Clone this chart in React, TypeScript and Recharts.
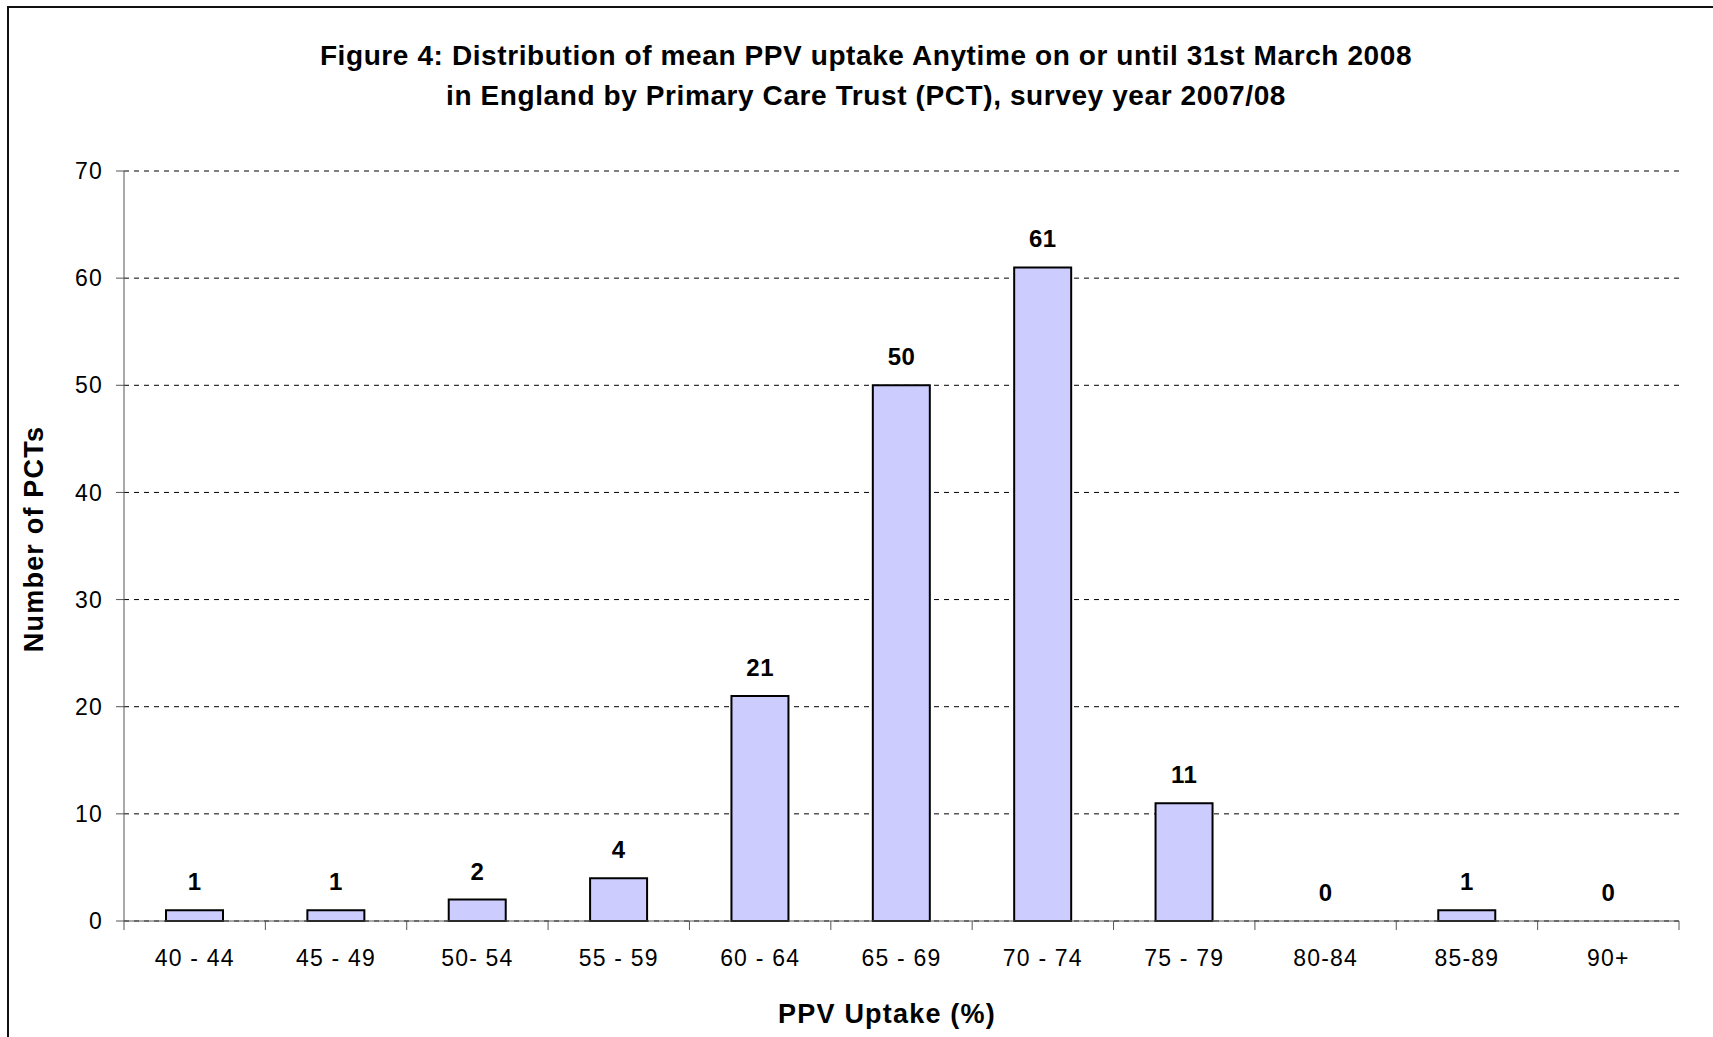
import React from "react";
import { ComposedChart, Bar, Line, XAxis, YAxis, CartesianGrid, LabelList } from "recharts";

const categories = ["40 - 44", "45 - 49", "50- 54", "55 - 59", "60 - 64", "65 - 69", "70 - 74", "75 - 79", "80-84", "85-89", "90+"];
const counts = [1, 1, 2, 4, 21, 50, 61, 11, 0, 1, 0];
const yTicks = [0, 10, 20, 30, 40, 50, 60, 70];
const titleLines = [
  "Figure 4: Distribution of mean PPV uptake Anytime on or until 31st March 2008",
  "in England by Primary Care Trust (PCT), survey year 2007/08",
];
const xTitle = "PPV Uptake (%)";
const yTitle = "Number of PCTs";

const data = categories.map((c, i) => ({ name: c, value: counts[i] }));

const W = 1713;
const H = 1037;
const PLOT_LEFT = 124;
const PLOT_RIGHT = 1679;
const PLOT_TOP = 171;
const PLOT_BOTTOM = 921;
const Y_AXIS_W = 60;
const X_AXIS_H = 60;
const FONT = "'Liberation Sans', Arial, Helvetica, sans-serif";
const AXIS_COLOR = "#555";

const XTick = (props: any) => {
  const { x, y, payload, index } = props;
  const band = (PLOT_RIGHT - PLOT_LEFT) / categories.length;
  const left = x - band / 2;
  const right = x + band / 2;
  return (
    <g>
      <line x1={left} x2={left} y1={y} y2={y + 9} stroke={AXIS_COLOR} strokeWidth={1} />
      {index === categories.length - 1 && (
        <line x1={right} x2={right} y1={y} y2={y + 9} stroke={AXIS_COLOR} strokeWidth={1} />
      )}
      <text
        x={x}
        y={y + 45}
        textAnchor="middle"
        fontFamily={FONT}
        fontSize={23}
        letterSpacing={1.2}
        fill="#000"
      >
        {payload.value}
      </text>
    </g>
  );
};

const YTick = (props: any) => {
  const { x, y, payload } = props;
  return (
    <text
      x={x}
      y={y}
      dy="0.355em"
      textAnchor="end"
      fontFamily={FONT}
      fontSize={23}
      letterSpacing={1.2}
      fill="#000"
    >
      {payload.value}
    </text>
  );
};

const ValueLabel = (props: any) => {
  const vb = props.viewBox || {};
  const x = props.x ?? vb.x;
  const y = props.y ?? vb.y;
  const width = props.width ?? vb.width ?? 0;
  const value = props.value;
  if (x == null || y == null) return null;
  return (
    <text
      x={x + (width || 0) / 2}
      y={y - 20}
      textAnchor="middle"
      fontFamily={FONT}
      fontSize={24}
      fontWeight="bold"
      letterSpacing={0.5}
      fill="#000"
    >
      {value}
    </text>
  );
};

export default function App() {
  return (
    <div style={{ position: "absolute", left: 0, top: 0, width: W, height: H, overflow: "hidden", background: "#fff" }}>
      <div
        style={{
          position: "absolute",
          left: 7,
          top: 6,
          width: W + 40,
          height: H + 40,
          border: "2px solid #111",
          boxSizing: "border-box",
        }}
      />
      <div style={{ position: "absolute", left: 0, top: 0 }}>
        <ComposedChart
          width={W}
          height={H}
          data={data}
          margin={{
            top: PLOT_TOP,
            right: W - PLOT_RIGHT,
            bottom: H - PLOT_BOTTOM - X_AXIS_H,
            left: PLOT_LEFT - Y_AXIS_W,
          }}
        >
          <CartesianGrid vertical={false} stroke="#000" strokeDasharray="5 5" />
          <XAxis
            dataKey="name"
            height={X_AXIS_H}
            tickLine={false}
            tickSize={0}
            tickMargin={0}
            axisLine={{ stroke: AXIS_COLOR, strokeWidth: 1 }}
            tick={<XTick />}
            interval={0}
          />
          <YAxis
            width={Y_AXIS_W}
            domain={[0, 70]}
            ticks={yTicks}
            interval={0}
            tickSize={8}
            tickMargin={13}
            tickLine={{ stroke: AXIS_COLOR, strokeWidth: 1 }}
            axisLine={{ stroke: AXIS_COLOR, strokeWidth: 1 }}
            tick={<YTick />}
          />
          <Bar dataKey="value" fill="#CCCCFF" stroke="#000" strokeWidth={2} barSize={57} isAnimationActive={false} />
          <Line
            dataKey="value"
            stroke="none"
            dot={false}
            activeDot={false}
            legendType="none"
            isAnimationActive={false}
          >
            <LabelList dataKey="value" content={<ValueLabel />} />
          </Line>
        </ComposedChart>
      </div>
      <svg width={W} height={H} style={{ position: "absolute", left: 0, top: 0, pointerEvents: "none" }}>
        <text x={866} y={65} textAnchor="middle" fontFamily={FONT} fontSize={28} fontWeight="bold" letterSpacing={0.6} fill="#000">
          {titleLines[0]}
        </text>
        <text x={866} y={105} textAnchor="middle" fontFamily={FONT} fontSize={28} fontWeight="bold" letterSpacing={0.6} fill="#000">
          {titleLines[1]}
        </text>
        <text x={887} y={1023} textAnchor="middle" fontFamily={FONT} fontSize={27} fontWeight="bold" letterSpacing={1.2} fill="#000">
          {xTitle}
        </text>
        <text
          x={43}
          y={539}
          transform="rotate(-90 43 539)"
          textAnchor="middle"
          fontFamily={FONT}
          fontSize={27}
          fontWeight="bold"
          letterSpacing={1.2}
          fill="#000"
        >
          {yTitle}
        </text>
      </svg>
    </div>
  );
}
